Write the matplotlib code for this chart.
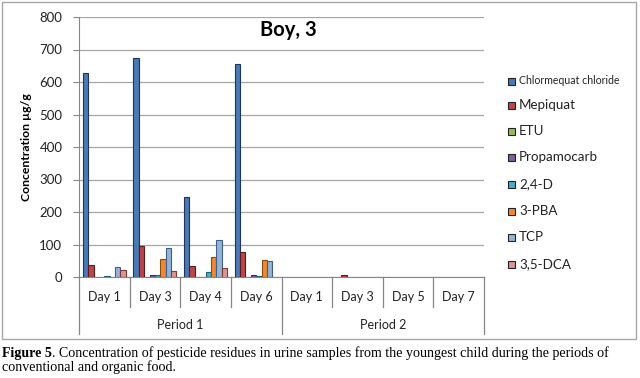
import numpy as np
import matplotlib
matplotlib.use("Agg")
import matplotlib.pyplot as plt
from matplotlib.patches import Rectangle
from matplotlib.transforms import blended_transform_factory

plt.rcParams['font.family'] = ['Lato', 'DejaVu Sans']

# ── data ─────────────────────────────────────────────────────────────────
days    = ["Day 1", "Day 3", "Day 4", "Day 6", "Day 1", "Day 3", "Day 5", "Day 7"]
periods = ["Period 1", "Period 2"]
series  = ["Chlormequat chloride", "Mepiquat", "ETU", "Propamocarb",
           "2,4-D", "3-PBA", "TCP", "3,5-DCA"]

chlormequat = [628, 675, 247, 654, 0, 0, 0, 0]
mepiquat    = [36, 96, 33, 77, 0, 7, 0, 0]
etu         = [0, 0, 0, 0, 0, 0, 0, 0]
propamocarb = [0, 5, 0, 7, 0, 0, 0, 0]
d24         = [4, 7, 14, 3, 0, 0, 0, 0]
pba3        = [0, 55, 63, 51, 0, 0, 0, 0]
tcp         = [32, 88, 115, 49, 0, 0, 0, 0]
dca35       = [21, 17, 28, 0, 0, 0, 0, 0]

values = [chlormequat, mepiquat, etu, propamocarb, d24, pba3, tcp, dca35]
colors = ["#4A7AB5", "#B8464A", "#9BBB59", "#7D5FA0",
          "#4BACC6", "#EE8A35", "#95B3D7", "#D99694"]
edges  = ["#1E3558", "#5E1A1A", "#4F6B24", "#3E2C5E",
          "#1F5F70", "#8A4A10", "#3F5F88", "#7A3B39"]

fig = plt.figure(figsize=(6.4, 3.78), dpi=100)
W, H = 640, 378

# chart area frame
fig.patches.append(Rectangle((2 / W, 1 - 339 / H), 634 / W, 337 / H,
                             transform=fig.transFigure, fill=False,
                             edgecolor="#A6A6A6", lw=1.0))

ax = fig.add_axes([79 / W, 1 - 277 / H, 405 / W, 260 / H])

x = np.arange(len(days))
bw = 0.106
for k, (vals, c, e) in enumerate(zip(values, colors, edges)):
    v = np.array(vals, dtype=float)
    m = v > 0
    ax.bar(x[m] + (k - 3.5) * bw, v[m], width=bw, color=c,
           edgecolor=e, linewidth=0.8, zorder=3)

ax.set_xlim(-0.5, len(days) - 0.5)
ax.set_ylim(0, 800)
ax.set_yticks(np.arange(0, 801, 100))
ax.yaxis.grid(True, color="#A6A6A6", lw=0.9, zorder=0)
ax.set_xticks([])
for s in ["top", "right"]:
    ax.spines[s].set_visible(False)
for s in ["left", "bottom"]:
    ax.spines[s].set_color("#868686")
ax.tick_params(axis="y", length=4, color="#868686", labelsize=9.5,
               labelcolor="#222222", pad=8)

ax.set_ylabel("Concentration µg/g", fontsize=8.8, fontweight="bold",
              labelpad=5)
ax.text(0.518, 0.95, "Boy, 3", transform=ax.transAxes, ha="center",
        va="center", fontsize=14.5, fontweight="bold")

# two-level category axis
tr = blended_transform_factory(ax.transData, ax.transAxes)
for i, d in enumerate(days):
    ax.text(i, -0.077, d, transform=tr, ha="center", va="center",
            fontsize=9, color="#222222")
for b in [0.5, 1.5, 2.5, 4.5, 5.5, 6.5]:
    ax.plot([b, b], [0, -0.115], transform=tr, color="#868686",
            lw=0.9, clip_on=False)
for b in [-0.5, 3.5, 7.5]:
    ax.plot([b, b], [0, -0.219], transform=tr, color="#868686",
            lw=0.9, clip_on=False)
for j, p in enumerate(periods):
    ax.text(1.5 + 4 * j, -0.185, p, transform=tr, ha="center",
            va="center", fontsize=9, color="#222222")

# legend drawn by hand (first label is smaller in the original)
leg_y = [81, 105, 131, 157, 184, 211, 237, 264]
for name, c, e, yy in zip(series, colors, edges, leg_y):
    fig.patches.append(Rectangle((508 / W, 1 - (yy + 3.5) / H), 7 / W, 7 / H,
                                 transform=fig.transFigure, facecolor=c,
                                 edgecolor="#222222", lw=0.8))
    fig.text(519 / W, 1 - yy / H, name, ha="left", va="center",
             fontsize=7.6 if name == series[0] else 9.6, color="#222222")

# caption
cap1 = fig.text(2 / W, 1 - 353 / H, "Figure 5", family="Liberation Serif",
                fontweight="bold", fontsize=10.1, va="center", ha="left")
ax.annotate(". Concentration of pesticide residues in urine samples from the "
            "youngest child during the periods of",
            xy=(1, 0), xycoords=cap1, va="bottom", ha="left",
            family="Liberation Serif", fontsize=10.1, annotation_clip=False)
fig.text(2 / W, 1 - 367 / H, "conventional and organic food.",
         family="Liberation Serif", fontsize=10.1, va="center", ha="left")

fig.savefig("out.png", dpi=100)
